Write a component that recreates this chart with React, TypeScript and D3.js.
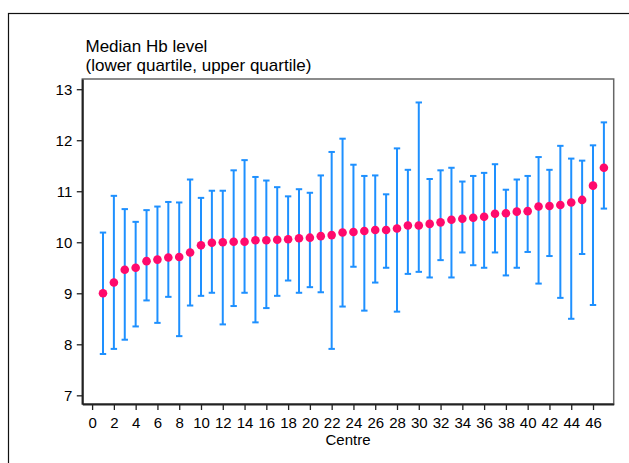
import { useRef, useEffect } from "react";
import * as d3 from "d3";

const centres = d3.range(1, 48);
const medians = [
  9.0, 9.21, 9.46, 9.5, 9.63, 9.66, 9.7, 9.71, 9.8, 9.94, 9.99, 10.0, 10.01, 10.01, 10.04, 10.04,
  10.05, 10.06, 10.08, 10.09, 10.12, 10.14, 10.19, 10.2, 10.22, 10.24, 10.24, 10.27, 10.33, 10.33,
  10.36, 10.39, 10.44, 10.46, 10.48, 10.5, 10.56, 10.57, 10.6, 10.61, 10.7, 10.71, 10.73, 10.78,
  10.83, 11.11, 11.46,
];
const lowerQ = [
  7.81, 7.91, 8.09, 8.35, 8.86, 8.42, 8.93, 8.16, 8.76, 8.95, 9.01, 8.39, 8.75, 9.01, 8.43, 8.71,
  8.95, 9.25, 9.01, 9.12, 9.02, 7.91, 8.74, 9.52, 8.66, 9.21, 9.5, 8.64, 9.38, 9.42, 9.31, 9.65,
  9.31, 9.8, 9.55, 9.5, 9.8, 9.35, 9.5, 9.81, 9.19, 9.73, 8.91, 8.5, 9.77, 8.77, 10.66,
];
const upperQ = [
  10.19, 10.91, 10.65, 10.4, 10.63, 10.7, 10.79, 10.78, 11.23, 10.87, 11.01, 11.01, 11.41, 11.61,
  11.28, 11.21, 11.08, 10.9, 11.04, 10.97, 11.31, 11.77, 12.03, 11.52, 11.3, 11.31, 10.94, 11.84,
  11.42, 12.74, 11.24, 11.41, 11.46, 11.19, 11.3, 11.36, 11.53, 11.03, 11.23, 11.3, 11.67, 11.42,
  11.89, 11.64, 11.6, 11.9, 12.35,
];
const xTicks = d3.range(0, 47, 2);
const yTicks = [7, 8, 9, 10, 11, 12, 13];

export default function App() {
  const ref = useRef<SVGSVGElement | null>(null);

  useEffect(() => {
    const svg = d3.select(ref.current);
    svg.selectAll("*").remove();

    const width = 629;
    const height = 463;
    const plot = { left: 82.3, right: 613.7, top: 79, bottom: 404 };
    const font = "'Liberation Sans', Arial, sans-serif";

    svg.append("rect").attr("width", width).attr("height", height).attr("fill", "#fff");

    // outer border
    svg
      .append("rect")
      .attr("x", 8.5)
      .attr("y", 13.5)
      .attr("width", 700)
      .attr("height", 500)
      .attr("fill", "none")
      .attr("stroke", "#111")
      .attr("stroke-width", 1.2);

    const x = d3.scaleLinear().domain([-0.9, 47.9]).range([plot.left, plot.right]);
    const y = d3.scaleLinear().domain([6.83, 13.2]).range([plot.bottom, plot.top]);

    // plot frame
    svg
      .append("rect")
      .attr("x", plot.left)
      .attr("y", plot.top)
      .attr("width", plot.right - plot.left)
      .attr("height", plot.bottom - plot.top)
      .attr("fill", "none")
      .attr("stroke", "#666")
      .attr("stroke-width", 1.5);

    // x axis
    const gx = svg
      .append("g")
      .attr("transform", `translate(0,${plot.bottom})`)
      .call(
        d3
          .axisBottom(x)
          .tickValues(xTicks)
          .tickFormat(d3.format("d"))
          .tickSize(6)
          .tickPadding(7)
          .tickSizeOuter(0)
      );
    gx.select(".domain").attr("stroke", "#222").attr("stroke-width", 2);
    gx.selectAll(".tick line").attr("stroke", "#222").attr("stroke-width", 1.3);
    gx.selectAll(".tick text")
      .attr("font-family", font)
      .attr("font-size", 15)
      .attr("fill", "#000");

    // y axis
    const gy = svg
      .append("g")
      .attr("transform", `translate(${plot.left},0)`)
      .call(
        d3
          .axisLeft(y)
          .tickValues(yTicks)
          .tickFormat(d3.format("d"))
          .tickSize(5.5)
          .tickPadding(4.5)
          .tickSizeOuter(0)
      );
    gy.select(".domain").attr("stroke", "#222").attr("stroke-width", 2);
    gy.selectAll(".tick line").attr("stroke", "#222").attr("stroke-width", 1.3);
    gy.selectAll(".tick text")
      .attr("font-family", font)
      .attr("font-size", 15)
      .attr("fill", "#000");

    // error bars (lower to upper quartile)
    const bars = svg.append("g").attr("stroke", "#1e90ff").attr("stroke-width", 2);
    centres.forEach((c, i) => {
      const cx = x(c);
      bars.append("line").attr("x1", cx).attr("x2", cx).attr("y1", y(lowerQ[i])).attr("y2", y(upperQ[i]));
      [lowerQ[i], upperQ[i]].forEach((v) => {
        bars
          .append("line")
          .attr("x1", cx - 3.2)
          .attr("x2", cx + 3.2)
          .attr("y1", y(v))
          .attr("y2", y(v));
      });
    });

    // medians
    svg
      .append("g")
      .selectAll("circle")
      .data(centres)
      .join("circle")
      .attr("cx", (c) => x(c))
      .attr("cy", (_, i) => y(medians[i]))
      .attr("r", 4.3)
      .attr("fill", "#ff0a6c");

    // titles
    const title = svg
      .append("text")
      .attr("font-family", font)
      .attr("font-size", 17)
      .attr("fill", "#000");
    title.append("tspan").attr("x", 85.5).attr("y", 51.7).text("Median Hb level");
    title.append("tspan").attr("x", 85.5).attr("y", 70.7).text("(lower quartile, upper quartile)");

    svg
      .append("text")
      .attr("x", (plot.left + plot.right) / 2)
      .attr("y", 444.5)
      .attr("text-anchor", "middle")
      .attr("font-family", font)
      .attr("font-size", 15)
      .attr("fill", "#000")
      .text("Centre");
  }, []);

  return (
    <div style={{ position: "fixed", left: 0, top: 0 }}>
      <svg ref={ref} width={629} height={463} style={{ display: "block" }}></svg>
    </div>
  );
}
